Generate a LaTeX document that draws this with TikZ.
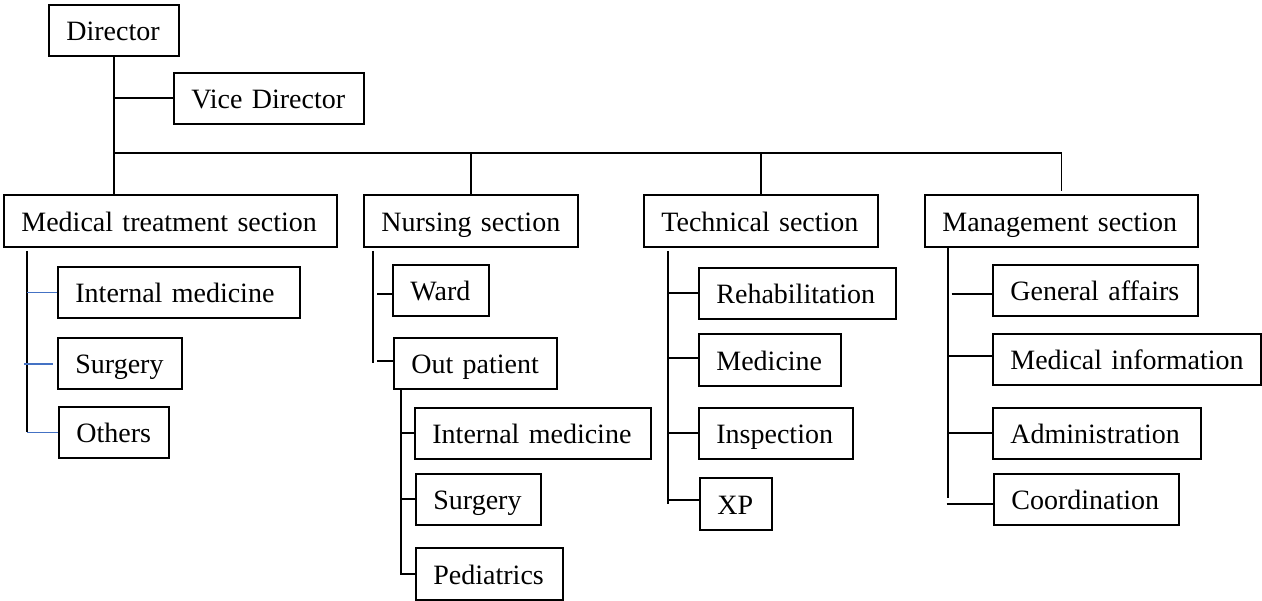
\documentclass[tikz,border=0pt]{standalone}
\usepackage{fontspec}
\setmainfont{Liberation Serif}
\definecolor{linkblue}{RGB}{68,114,196}
\newcommand{\orgfont}{\fontsize{28}{32}\selectfont}
\begin{document}
\begin{tikzpicture}[x=1pt,y=-1pt,
  org/.style={draw, line width=1.8pt, anchor=north west, minimum height=51pt,
    inner xsep=17.5pt, inner ysep=0pt, text height=21pt, text depth=0pt,
    align=left, font=\orgfont,
    execute at begin node={\hbox\bgroup}, execute at end node={\egroup}},
  link/.style={line width=1.8pt},
  bluelink/.style={line width=1.6pt, draw=linkblue}]
\useasboundingbox (0,0) rectangle (1262,601);

% top level
\node[org, minimum width=130pt, text width=95pt]  (dir)  at (48,4)   {Director};
\node[org, minimum width=190pt, text width=155pt] (vice) at (173,72) {Vice Director};

% sections
\node[org, minimum width=333pt, text width=298pt, minimum height=52pt] (med) at (3,194)   {Medical treatment section};
\node[org, minimum width=214pt, text width=179pt, minimum height=52pt] (nur) at (363,194) {Nursing section};
\node[org, minimum width=234pt, text width=199pt, minimum height=52pt] (tec) at (643,194) {Technical section};
\node[org, minimum width=273pt, text width=238pt, minimum height=52pt] (man) at (924,194) {Management section};

% medical treatment units
\node[org, minimum width=242pt, text width=207pt] (mint) at (57,266) {Internal medicine};
\node[org, minimum width=124pt, text width=89pt]  (msur) at (57,337) {Surgery};
\node[org, minimum width=110pt, text width=75pt]  (moth) at (58,406) {Others};

% nursing units
\node[org, minimum width=96pt,  text width=61pt]  (ward) at (392,264) {Ward};
\node[org, minimum width=163pt, text width=128pt] (nout) at (393,337) {Out patient};
\node[org, minimum width=236pt, text width=201pt] (oint) at (414,407) {Internal medicine};
\node[org, minimum width=125pt, text width=90pt]  (osur) at (415,473) {Surgery};
\node[org, minimum width=147pt, text width=112pt, minimum height=52pt] (oped) at (415,547) {Pediatrics};

% technical units
\node[org, minimum width=197pt, text width=162pt] (treh) at (698,267) {Rehabilitation};
\node[org, minimum width=142pt, text width=107pt, minimum height=52pt] (tmed) at (698,333) {Medicine};
\node[org, minimum width=154pt, text width=119pt] (tins) at (698,407) {Inspection};
\node[org, minimum width=72pt,  text width=37pt, minimum height=52pt]  (txp)  at (699,477) {XP};

% management units
\node[org, minimum width=205pt, text width=170pt] (ggen) at (992,264) {General affairs};
\node[org, minimum width=268pt, text width=233pt] (ginf) at (992,333) {Medical information};
\node[org, minimum width=208pt, text width=173pt] (gadm) at (992,407) {Administration};
\node[org, minimum width=185pt, text width=150pt] (gcoo) at (993,473) {Coordination};

% director trunk, vice branch and section bus
\draw[link] (dir.south) -- (dir.south |- med.north);
\draw[link] (dir.south |- vice.west) -- (vice.west);
\coordinate (busL) at (113,153);
\draw[link] (busL) -- (busL -| man.north) -- ([yshift=2.5pt]man.north);
\draw[link] (busL -| nur.north) -- (nur.north);
\draw[link] (busL -| tec.north) -- (tec.north);

% medical treatment section
\coordinate (mt) at ([xshift=24pt,yshift=-3pt]med.south west);
\draw[link] (mt) -- (mt |- moth.west);
\draw[bluelink] (mt |- mint.west) -- (mint.west);
\draw[bluelink] ([xshift=-3pt,yshift=-0.5pt]mt |- msur.west) -- ([xshift=-4pt,yshift=-0.5pt]msur.west);
\draw[bluelink] (mt |- moth.west) -- (moth.west);

% nursing section
\coordinate (nt) at ([xshift=10pt,yshift=-3pt]nur.south west);
\coordinate (nb) at ([xshift=4pt]nt);
\draw[link] (nt) -- (nt |- nout.west);
\draw[link] ([yshift=-3.5pt]nb |- ward.west) -- ([yshift=-3.5pt]ward.west);
\draw[link] ([yshift=2pt]nb |- nout.west) -- ([yshift=2pt]nout.west);
\coordinate (ot) at ([xshift=8pt]nout.south west);
\draw[link] (ot) |- (oped.west);
\draw[link] (ot |- oint.west) -- (oint.west);
\draw[link] (ot |- osur.west) -- (osur.west);

% technical section
\coordinate (tt) at ([xshift=25pt,yshift=-3pt]tec.south west);
\draw[link] (tt) -- (tt |- txp.west);
\draw[link] (tt |- treh.west) -- (treh.west);
\draw[link] ([yshift=2pt]tt |- tmed.west) -- ([yshift=2pt]tmed.west);
\draw[link] (tt |- tins.west) -- (tins.west);
\draw[link] ([yshift=4pt]tt |- txp.west) -- ([yshift=4pt]txp.west);

% management section
\coordinate (gt) at ([xshift=24pt]man.south west);
\coordinate (gb) at ([xshift=3.5pt]gt);
\draw[link] (gt) -- ([yshift=1.5pt]gt |- gcoo.west);
\draw[link] ([yshift=-3.5pt]gb |- ggen.west) -- ([yshift=-3.5pt]ggen.west);
\draw[link] ([yshift=3pt]gt |- ginf.west) -- ([yshift=3pt]ginf.west);
\draw[link] (gt |- gadm.west) -- (gadm.west);
\draw[link] ([xshift=-1.5pt,yshift=-5pt]gt |- gcoo.west) -- ([yshift=-5pt]gcoo.west);
\end{tikzpicture}
\end{document}
